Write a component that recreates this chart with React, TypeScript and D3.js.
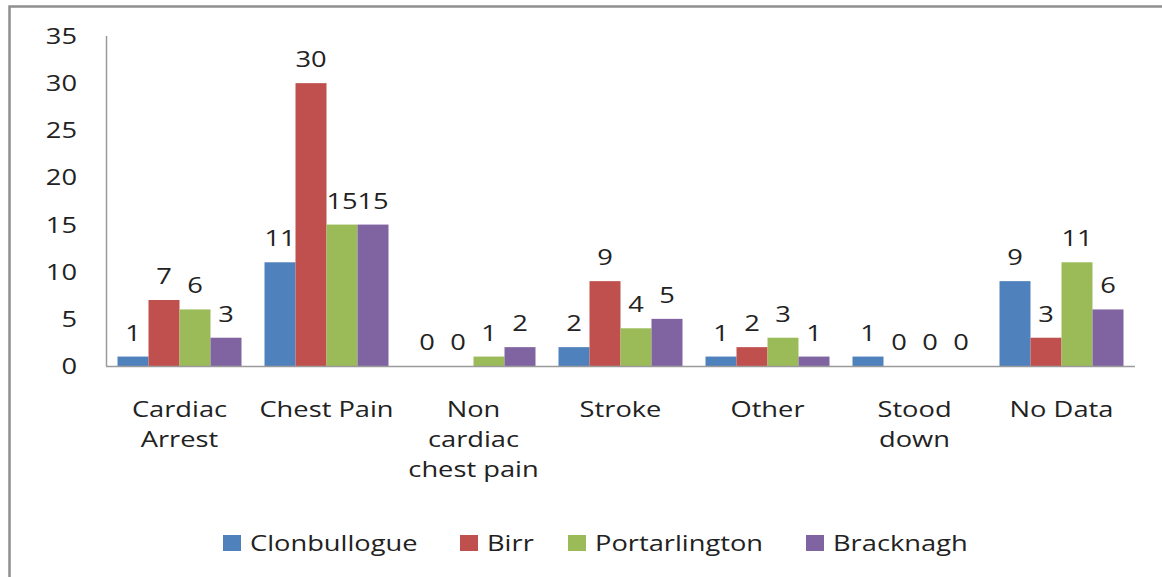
import React, { useEffect } from "react";
import * as d3 from "d3";

const categories = [
  ["Cardiac", "Arrest"],
  ["Chest Pain"],
  ["Non", "cardiac", "chest pain"],
  ["Stroke"],
  ["Other"],
  ["Stood", "down"],
  ["No Data"],
];
const seriesNames = ["Clonbullogue", "Birr", "Portarlington", "Bracknagh"];
const clonbullogue = [1, 11, 0, 2, 1, 1, 9];
const birr = [7, 30, 0, 9, 2, 0, 3];
const portarlington = [6, 15, 1, 4, 3, 0, 11];
const bracknagh = [3, 15, 2, 5, 1, 0, 6];
const yTicks = [0, 5, 10, 15, 20, 25, 30, 35];
const colors = ["#4f81bd", "#c0504d", "#9bbb59", "#8064a2"];

const seriesValues = [clonbullogue, birr, portarlington, bracknagh];

const W = 1162;
const H = 577;
const FONT = "'Open Sans', sans-serif";
const SX = 1.24; // the picture's glyphs are stretched sideways

const Txt = ({ x, y, anchor = "middle", size = 22, children }) => (
  <text
    transform={`translate(${x},${y}) scale(${SX},1)`}
    textAnchor={anchor}
    fontSize={size}
    fontFamily={FONT}
    fill="#222"
  >
    {children}
  </text>
);

export default function App() {
  useEffect(() => {
    document.body.style.margin = "0";
  }, []);

  const catKeys = categories.map((c) => c.join(" "));
  const fx = d3.scaleBand().domain(catKeys).range([106, 1135]);
  const x = d3
    .scaleBand()
    .domain(seriesNames)
    .range([11.5, fx.bandwidth() - 11.5]);
  const y = d3.scaleLinear().domain([0, 35]).range([366, 36]);

  const legendX = [223, 460, 568, 806];

  return (
    <svg width={W} height={H} viewBox={`0 0 ${W} ${H}`} style={{ display: "block", background: "#fff" }}>
      {/* outer frame: only top and left edges visible */}
      <path d={`M9.5,${H} V6.5 H${W}`} fill="none" stroke="#8f8f8f" strokeWidth={2.5} />

      {/* y axis */}
      <line x1={106.5} x2={106.5} y1={y(35)} y2={y(0)} stroke="#9a9a9a" strokeWidth={1.5} />
      {yTicks.map((t) => (
        <Txt key={t} x={77} y={y(t) + 8} anchor="end">
          {t}
        </Txt>
      ))}

      {/* bars */}
      {catKeys.map((c, ci) => (
        <g key={c} transform={`translate(${fx(c)},0)`}>
          {seriesNames.map((s, si) => {
            const v = seriesValues[si][ci];
            return (
              <g key={s}>
                {v > 0 && (
                  <rect
                    x={x(s)}
                    y={y(v)}
                    width={x.bandwidth()}
                    height={y(0) - y(v)}
                    fill={colors[si]}
                  />
                )}
                <Txt x={x(s) + x.bandwidth() / 2} y={y(v) - 16}>
                  {v}
                </Txt>
              </g>
            );
          })}
        </g>
      ))}

      {/* x axis */}
      <line x1={106} x2={1135} y1={366.5} y2={366.5} stroke="#9a9a9a" strokeWidth={1.5} />
      {categories.map((lines, ci) => (
        <g key={ci}>
          {lines.map((l, li) => (
            <Txt key={li} x={fx(catKeys[ci]) + fx.bandwidth() / 2} y={417 + li * 30}>
              {l}
            </Txt>
          ))}
        </g>
      ))}

      {/* legend */}
      {seriesNames.map((s, si) => (
        <g key={s}>
          <rect x={legendX[si]} y={535} width={18} height={16} fill={colors[si]} />
          <Txt x={legendX[si] + 27} y={551} anchor="start">
            {s}
          </Txt>
        </g>
      ))}
    </svg>
  );
}
